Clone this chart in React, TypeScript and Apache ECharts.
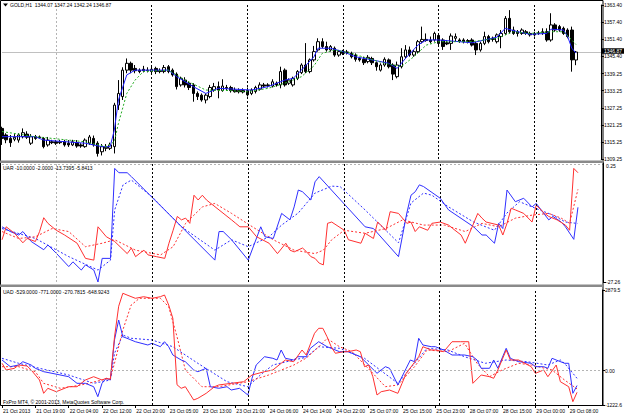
import { useEffect, useRef } from "react";
import * as echarts from "echarts";

const FONT = "Liberation Sans, Arial, sans-serif";

// time axis
const slotCount = 145;
const timeLabels = ["21 Oct 2013", "21 Oct 19:00", "22 Oct 04:00", "22 Oct 12:00", "22 Oct 20:00", "23 Oct 05:00", "23 Oct 13:00", "23 Oct 21:00", "24 Oct 06:00", "24 Oct 14:00", "24 Oct 22:00", "25 Oct 07:00", "25 Oct 15:00", "25 Oct 23:00", "28 Oct 07:00", "28 Oct 15:00", "29 Oct 00:00", "29 Oct 08:00"];
const timeLabelBars = [0, 8, 16, 24, 32, 40, 48, 56, 64, 72, 80, 88, 96, 104, 112, 120, 128, 136];
const firstSeparatorBar = 13;
const daySeparatorBars = [36, 59, 82, 105, 128];

// price axis
const priceTicks = [1309.25, 1315.25, 1321.25, 1327.25, 1333.25, 1339.25, 1345.4, 1351.4, 1357.4, 1363.4];
const bidPrice = 1346.87;
const uarMin = -27.26;
const uarMax = 0.25;
const uadTicks = [-1222.6, 0, 2879.5];

// GOLD H1 candles: [open, close, low, high]
const candles = [
  [1320.0, 1316.5, 1314.2, 1320.6], [1317.7, 1316.0, 1314.8, 1318.3], [1316.5, 1315.0, 1313.5, 1317.7], [1316.2, 1316.9, 1315.5, 1318.0],
  [1315.9, 1317.7, 1315.0, 1318.3], [1317.1, 1318.5, 1316.5, 1320.0], [1318.0, 1316.9, 1316.3, 1319.0], [1314.8, 1317.1, 1314.2, 1318.0],
  [1317.1, 1316.5, 1316.0, 1317.7], [1317.0, 1316.8, 1316.3, 1317.5], [1316.5, 1313.6, 1313.0, 1317.0], [1314.2, 1315.9, 1313.6, 1317.0],
  [1315.3, 1315.0, 1314.5, 1316.0], [1315.3, 1314.8, 1314.2, 1315.9], [1315.0, 1315.3, 1314.5, 1316.0], [1315.3, 1314.2, 1313.6, 1316.0],
  [1314.8, 1314.2, 1313.5, 1315.9], [1314.2, 1315.3, 1313.8, 1316.0], [1315.0, 1313.8, 1313.2, 1315.9], [1314.2, 1313.8, 1313.2, 1314.8],
  [1313.6, 1315.9, 1313.2, 1316.5], [1314.8, 1317.0, 1314.2, 1317.7], [1316.5, 1314.2, 1313.6, 1317.5], [1314.8, 1311.2, 1310.1, 1315.5],
  [1311.8, 1313.6, 1310.5, 1314.5], [1313.0, 1313.4, 1312.0, 1314.5], [1313.0, 1314.2, 1312.4, 1315.0], [1313.6, 1328.2, 1311.2, 1329.0],
  [1328.2, 1332.3, 1326.5, 1337.0], [1331.2, 1340.5, 1330.0, 1341.5], [1340.5, 1342.9, 1339.4, 1344.6], [1342.9, 1340.5, 1339.4, 1343.5],
  [1341.1, 1340.3, 1339.4, 1342.3], [1340.5, 1340.0, 1339.4, 1341.1], [1340.8, 1340.3, 1339.7, 1342.0], [1340.5, 1340.3, 1339.7, 1341.5],
  [1340.0, 1340.8, 1339.4, 1341.7], [1341.1, 1340.0, 1339.1, 1341.7], [1340.3, 1340.0, 1339.4, 1341.1], [1340.0, 1341.4, 1339.4, 1342.3],
  [1341.7, 1340.0, 1339.4, 1342.3], [1340.5, 1338.8, 1338.2, 1341.1], [1339.1, 1334.7, 1333.7, 1339.7], [1335.3, 1337.6, 1334.7, 1338.2],
  [1337.0, 1335.3, 1334.4, 1338.0], [1335.9, 1334.4, 1333.5, 1336.5], [1335.3, 1332.3, 1329.4, 1335.9], [1332.3, 1331.2, 1330.0, 1333.0],
  [1331.7, 1330.0, 1329.4, 1332.3], [1330.0, 1331.7, 1328.8, 1332.3], [1331.2, 1334.4, 1330.6, 1335.3], [1333.5, 1334.7, 1332.9, 1336.0],
  [1334.7, 1333.5, 1330.6, 1336.5], [1333.3, 1334.9, 1332.9, 1337.3], [1334.4, 1334.1, 1333.5, 1335.3], [1334.4, 1333.3, 1332.6, 1335.0],
  [1333.5, 1332.9, 1332.6, 1334.4], [1333.3, 1332.9, 1332.3, 1334.1], [1333.3, 1332.8, 1332.3, 1334.1], [1333.3, 1331.8, 1331.2, 1334.4],
  [1332.3, 1333.5, 1331.7, 1334.1], [1333.0, 1334.4, 1332.3, 1335.0], [1333.8, 1335.3, 1333.3, 1336.2], [1335.3, 1334.9, 1334.4, 1336.0],
  [1335.3, 1335.0, 1334.4, 1335.9], [1334.9, 1336.4, 1334.4, 1337.3], [1335.9, 1335.3, 1334.7, 1336.5], [1335.3, 1340.0, 1334.1, 1341.7],
  [1340.5, 1335.3, 1334.7, 1341.1], [1335.9, 1337.0, 1335.3, 1337.6], [1335.3, 1337.6, 1334.7, 1338.2], [1337.6, 1340.0, 1337.0, 1340.5],
  [1339.6, 1342.3, 1339.1, 1342.9], [1342.3, 1340.0, 1339.4, 1350.0], [1340.0, 1344.1, 1339.4, 1344.6], [1344.1, 1347.0, 1343.5, 1349.0],
  [1347.6, 1350.5, 1347.0, 1351.7], [1350.5, 1348.8, 1348.2, 1351.7], [1348.8, 1347.6, 1347.0, 1350.5], [1347.6, 1348.8, 1347.0, 1349.3],
  [1348.2, 1345.8, 1345.2, 1348.8], [1345.8, 1347.0, 1345.2, 1347.6], [1347.0, 1346.4, 1345.8, 1347.6], [1346.9, 1346.6, 1346.0, 1347.6],
  [1346.4, 1345.2, 1344.6, 1347.0], [1345.8, 1344.3, 1343.5, 1346.4], [1344.6, 1344.1, 1343.5, 1345.2], [1344.3, 1343.1, 1342.3, 1345.2],
  [1343.5, 1345.0, 1342.9, 1345.8], [1344.6, 1343.1, 1342.3, 1345.2], [1343.1, 1341.7, 1340.3, 1343.5], [1340.5, 1342.3, 1340.0, 1342.9],
  [1342.3, 1344.3, 1341.7, 1345.0], [1344.1, 1341.7, 1341.1, 1344.6], [1342.3, 1339.1, 1337.0, 1342.9], [1338.2, 1342.3, 1337.6, 1343.5],
  [1341.7, 1345.2, 1341.1, 1348.2], [1345.2, 1347.6, 1344.6, 1349.3], [1347.6, 1345.8, 1345.2, 1348.8], [1345.8, 1347.0, 1345.2, 1347.6],
  [1347.0, 1350.5, 1346.4, 1351.1], [1350.5, 1351.3, 1349.9, 1355.8], [1351.3, 1350.9, 1350.5, 1353.4], [1351.1, 1350.5, 1349.9, 1352.3],
  [1351.1, 1353.4, 1350.5, 1354.0], [1352.7, 1349.9, 1349.3, 1353.4], [1351.1, 1348.8, 1347.6, 1351.7], [1350.1, 1349.7, 1349.3, 1351.1],
  [1349.9, 1352.5, 1347.6, 1353.4], [1351.7, 1352.3, 1350.5, 1353.4], [1351.1, 1350.7, 1350.1, 1351.7], [1351.1, 1350.5, 1349.9, 1351.7],
  [1350.9, 1350.5, 1349.9, 1351.4], [1351.1, 1349.3, 1348.8, 1351.7], [1349.9, 1347.6, 1345.8, 1350.5], [1347.6, 1349.9, 1347.0, 1350.5],
  [1349.9, 1352.3, 1349.3, 1354.0], [1352.3, 1350.5, 1349.9, 1352.9], [1351.7, 1351.3, 1350.5, 1352.3], [1350.5, 1352.9, 1349.9, 1353.4],
  [1352.3, 1353.4, 1348.2, 1354.6], [1353.4, 1358.7, 1352.9, 1359.5], [1358.7, 1354.0, 1353.4, 1361.6], [1354.6, 1353.4, 1352.9, 1355.8],
  [1354.0, 1353.4, 1352.3, 1354.6], [1353.4, 1354.6, 1352.9, 1355.2], [1354.0, 1353.4, 1352.9, 1354.6], [1353.4, 1352.9, 1352.3, 1354.0],
  [1353.4, 1352.9, 1352.3, 1354.0], [1353.4, 1353.6, 1352.9, 1354.3], [1353.6, 1354.0, 1352.9, 1355.2], [1354.0, 1351.1, 1350.5, 1355.2],
  [1351.1, 1356.4, 1350.5, 1360.5], [1356.4, 1354.6, 1354.0, 1357.0], [1355.8, 1354.6, 1354.0, 1356.4], [1355.2, 1353.4, 1352.9, 1355.8],
  [1354.6, 1352.3, 1351.7, 1355.2], [1354.6, 1344.1, 1339.96, 1355.8], [1344.07, 1346.87, 1342.24, 1347.24],
];

// moving averages on price pane: [bar, price]
const maFast = [[0, 1317.1], [8, 1317.1], [10, 1315.9], [20, 1314.8], [24, 1313.6], [26, 1313.6], [27, 1319.4], [28, 1330], [30, 1338.8], [32, 1340.5], [40, 1340.5], [42, 1338.2], [46, 1334.7], [49, 1332.3], [52, 1334.1], [60, 1333.5], [64, 1334.7], [68, 1337], [70, 1337.6], [72, 1340.5], [75, 1345.2], [76, 1348.2], [79, 1348.2], [82, 1347], [85, 1345.2], [89, 1344.1], [93, 1342.9], [95, 1341.1], [97, 1344.6], [100, 1349.3], [102, 1351.1], [105, 1351.1], [110, 1350.5], [113, 1350.1], [116, 1351.1], [119, 1352.1], [121, 1355.2], [124, 1354], [127, 1353.1], [131, 1353.4], [132, 1354.9], [135, 1354.6], [136, 1352.3], [137, 1348.2], [138, 1346.5]];
const maSlow = [[0, 1318.9], [8, 1317.1], [20, 1315.3], [25, 1313.6], [27, 1315.3], [28, 1321.8], [30, 1332.3], [32, 1337], [34, 1340], [40, 1340.5], [44, 1337], [49, 1333.5], [55, 1333.3], [59, 1332.9], [64, 1334.1], [68, 1335.9], [72, 1338.2], [75, 1342], [77, 1346.4], [80, 1347.6], [84, 1346.4], [88, 1344.6], [92, 1342.9], [96, 1341.7], [99, 1345.2], [102, 1349.3], [105, 1350.5], [113, 1350.5], [119, 1351.7], [123, 1354], [127, 1353.4], [132, 1354], [135, 1354], [137, 1351.1], [138, 1349.5]];

// UAR pane: [bar, value]
const uarBlue = [[0, -14.5], [2, -15.6], [4, -16.4], [5, -15.6], [7, -17.9], [10, -19.8], [11, -18.7], [13, -20.6], [16, -23.7], [17, -22.6], [19, -24.5], [20, -23.3], [22, -24.5], [23, -27.26], [24, -21.8], [26, -21.8], [27, -1.0], [28, -2.0], [30, -2.0], [31, -2.9], [51, -22.2], [52, -15.6], [53, -15.6], [55, -17.5], [59, -22.2], [62, -14.5], [63, -16.8], [65, -17.2], [67, -11.4], [69, -12.9], [70, -9.9], [71, -6.0], [72, -6.4], [74, -8.3], [75, -4.1], [76, -2.9], [87, -14.5], [89, -14.9], [95, -21.4], [97, -11.3], [98, -7.2], [99, -6.4], [100, -4.8], [101, -5.2], [105, -7.9], [107, -10.6], [113, -14.5], [115, -16.4], [116, -16.4], [118, -18.3], [119, -13.7], [120, -14.9], [121, -6.0], [123, -8.7], [125, -7.9], [127, -9.9], [128, -9.1], [131, -12.9], [132, -12.1], [134, -13.4], [135, -14.5], [137, -17.4], [138, -10.0]];
const uarRed = [[0, -17.5], [1, -14.5], [3, -16.0], [5, -18.2], [6, -17.2], [8, -17.9], [9, -15.6], [10, -12.4], [11, -13.7], [13, -15.3], [15, -16.4], [18, -18.3], [20, -21.8], [22, -22.2], [23, -14.5], [25, -16.8], [27, -17.9], [30, -20.7], [31, -19.4], [32, -21.4], [34, -19.9], [35, -21.0], [37, -21.4], [39, -21.8], [40, -18.3], [41, -15.3], [42, -12.1], [43, -12.9], [44, -12.5], [45, -13.7], [46, -7.2], [47, -8.3], [48, -7.2], [49, -8.3], [52, -10.6], [55, -12.9], [56, -13.7], [57, -14.5], [59, -14.5], [61, -16.8], [64, -18.3], [66, -20.7], [68, -18.3], [69, -19.9], [70, -20.3], [72, -19.4], [73, -20.3], [74, -21.4], [75, -21.8], [76, -22.9], [77, -23.3], [78, -13.7], [79, -13.4], [82, -15.3], [83, -17.5], [86, -18.3], [87, -16.0], [89, -17.2], [90, -13.4], [92, -15.3], [93, -11.0], [95, -11.4], [97, -13.7], [98, -13.4], [99, -15.6], [100, -14.5], [102, -15.3], [103, -13.7], [105, -13.4], [107, -14.1], [108, -14.9], [110, -16.4], [111, -18.3], [112, -16.0], [114, -11.4], [115, -12.5], [116, -13.4], [119, -14.1], [120, -16.4], [121, -13.7], [122, -10.2], [123, -10.6], [125, -11.4], [127, -13.4], [128, -9.5], [130, -11.4], [131, -12.1], [133, -12.9], [135, -14.1], [136, -15.3], [137, -1.0], [138, -2.0]];
const uarBlueMA = [[0, -14.9], [8, -17.2], [16, -21.4], [23, -24.5], [26, -22.2], [27, -10.6], [29, -4.8], [31, -3.7], [36, -7.6], [43, -14.5], [51, -19.9], [55, -17.5], [59, -19.1], [64, -16.8], [67, -14.1], [71, -11.3], [75, -6.7], [79, -5.1], [81, -5.2], [87, -10.6], [95, -18.2], [98, -9.0], [101, -6.7], [103, -7.2], [107, -9.9], [113, -13.4], [118, -15.3], [121, -11.3], [124, -8.7], [127, -9.9], [132, -11.8], [135, -13.4], [138, -13.7395]];
const uarRedMA = [[0, -15.6], [4, -17.2], [8, -16.8], [12, -14.9], [16, -15.6], [20, -19.1], [24, -18.3], [27, -17.5], [32, -19.9], [38, -21.0], [41, -19.1], [44, -13.7], [48, -9.9], [51, -9.1], [55, -11.4], [60, -14.5], [65, -17.5], [70, -19.9], [75, -20.7], [77, -19.9], [79, -17.5], [82, -15.3], [87, -16.0], [92, -14.9], [96, -12.9], [101, -14.1], [106, -14.1], [111, -15.6], [115, -13.7], [119, -14.5], [123, -12.5], [127, -11.8], [131, -11.4], [134, -12.5], [136, -13.7], [138, -5.8413]];

// UAD pane: [bar, value]
const uadBlue = [[0, 383], [2, 144], [4, 204], [5, 322], [7, 204], [8, 87], [10, -34], [12, -92], [16, -213], [18, -449], [20, -449], [22, -570], [23, -927], [24, -449], [25, -270], [26, -331], [27, 1100], [28, 1809], [29, 1214], [30, 1157], [32, 1035], [35, 918], [36, 978], [38, 857], [39, 1035], [40, 857], [41, 561], [43, 383], [44, 322], [46, 26], [47, -34], [49, 87], [50, -570], [52, -627], [54, -570], [55, -688], [57, -627], [59, -866], [60, -270], [61, 204], [63, 500], [65, 443], [66, 383], [67, 739], [68, 443], [70, 383], [71, 500], [73, 500], [74, 800], [76, 1035], [78, 857], [79, 800], [81, 679], [83, 679], [84, 622], [86, 500], [88, 204], [90, -92], [92, 144], [93, 87], [95, -509], [97, 87], [98, 383], [99, 322], [100, 1157], [101, 918], [103, 857], [104, 857], [106, 739], [108, 561], [111, 561], [113, 500], [114, 383], [115, 87], [117, 87], [118, 383], [119, 87], [121, 800], [122, 443], [124, 322], [127, 265], [128, 144], [130, 144], [131, 87], [132, 443], [133, 383], [135, 265], [136, 265], [137, -806], [138, -529]];
const uadRed = [[0, 265], [1, 26], [3, 87], [4, 204], [6, 170], [7, 26], [9, -331], [10, -806], [11, -627], [13, -748], [16, -570], [18, -570], [20, -331], [22, -213], [24, -331], [25, -270], [26, -306], [27, 1200], [28, 2300], [29, 2762], [30, 2701], [32, 2583], [34, 2640], [36, 2583], [38, 2640], [39, 2701], [40, 2344], [41, 1870], [42, -500], [43, -627], [44, -570], [45, -806], [46, -1044], [47, -984], [49, -806], [51, -570], [52, -509], [55, -449], [58, -392], [60, -152], [63, -34], [65, 26], [67, 265], [68, 383], [70, 322], [72, 739], [73, 561], [75, 1335], [76, 1513], [77, 1513], [78, 1214], [79, 857], [80, 622], [82, 679], [83, 679], [85, 739], [86, 679], [87, 144], [88, 204], [89, -213], [90, -866], [91, -748], [93, -688], [95, -806], [96, -449], [97, -92], [99, 300], [100, 500], [101, 857], [103, 739], [104, 739], [106, 679], [108, 1035], [110, 1035], [112, 1035], [113, -449], [115, -152], [117, -213], [118, -270], [119, 26], [121, 739], [122, 383], [124, 383], [127, 144], [128, -92], [130, 26], [131, -213], [133, 204], [134, -392], [136, -570], [137, -1105], [138, -771]];
const uadBlueMA = [[0, 443], [4, 265], [9, 87], [16, -152], [22, -449], [26, -331], [27, 622], [29, 1274], [31, 1157], [36, 1096], [41, 857], [47, 265], [54, -392], [59, -570], [62, -152], [65, 204], [70, 383], [73, 480], [76, 857], [81, 800], [87, 443], [95, -449], [99, 265], [102, 800], [107, 739], [111, 500], [116, 265], [121, 383], [126, 322], [131, 204], [134, 383], [135, 265], [138, -270.7815]];
const uadRedMA = [[0, 144], [4, 144], [8, -34], [10, -449], [14, -627], [19, -509], [24, -331], [26, -270], [27, 265], [29, 1453], [31, 2344], [33, 2583], [38, 2583], [40, 2284], [42, 1214], [44, 26], [48, -570], [52, -570], [59, -392], [64, -152], [70, 200], [73, 450], [76, 850], [78, 1150], [81, 857], [84, 679], [89, -92], [92, -570], [95, -509], [99, 144], [102, 739], [107, 679], [111, 978], [114, 265], [117, -213], [120, 26], [124, 265], [127, 204], [132, 26], [135, -331], [138, -648.9243]];

const BLUE = "#2f2fff";
const RED = "#ff3030";

export default function App() {
  const ref = useRef<HTMLDivElement>(null);
  useEffect(() => {
    if (!ref.current) return;
    const chart = echarts.init(ref.current, undefined, { renderer: "svg" });
    const slots = Array.from({ length: slotCount }, (_, i) => String(i));
    const isLabelBar = (i: number) => timeLabelBars.includes(i);

    const xAxis = (gridIndex: number, show: boolean) => ({
      type: "category",
      gridIndex,
      data: slots,
      boundaryGap: false,
      axisLine: { show, onZero: false, lineStyle: { color: "#000", width: 1 } },
      axisTick: { show, interval: isLabelBar, length: 3, lineStyle: { color: "#000" } },
      axisLabel: {
        show,
        interval: isLabelBar,
        formatter: (_v: string, i: number) => {
          const k = timeLabelBars.indexOf(i);
          return k >= 0 ? timeLabels[k] : "";
        },
        fontSize: 5,
        fontFamily: FONT,
        color: "#000",
        align: "left",
        margin: 3,
        padding: [0, 0, 0, 1],
      },
      splitLine: { show: false },
    });

    const yAxis = (gridIndex: number, min: number, max: number, ticks: number[], fmt: (v: number) => string) => ({
      type: "value",
      gridIndex,
      position: "right",
      min,
      max,
      axisLine: { show: true, lineStyle: { color: "#000", width: 1 } },
      axisTick: { show: true, length: 3, customValues: ticks, lineStyle: { color: "#000" } },
      axisLabel: { customValues: ticks, formatter: fmt, fontSize: 5, fontFamily: FONT, color: "#000", margin: 3 },
      splitLine: { show: false },
    });

    // black dotted day separators
    const blackSeparators = {
      silent: true,
      symbol: ["none", "none"],
      label: { show: false },
      lineStyle: { color: "#000000", type: [2, 2], width: 1 },
      data: daySeparatorBars.map((b) => ({ xAxis: String(b) })),
    };
    // light gray dotted: first separator + optional level line
    const graySeparators = (level: number | null) => ({
      silent: true,
      symbol: ["none", "none"],
      label: { show: false },
      lineStyle: { color: "#b4b4b4", type: [2, 2], width: 1 },
      data: level === null
        ? [{ xAxis: String(firstSeparatorBar) }]
        : [{ xAxis: String(firstSeparatorBar) }, { yAxis: level }],
    });

    const line = (name: string, data: number[][], xi: number, color: string, dotted: boolean, extra: any = {}) => ({
      name,
      type: "line",
      xAxisIndex: xi,
      yAxisIndex: xi,
      data,
      showSymbol: false,
      symbol: "none",
      lineStyle: { color, width: 1, type: dotted ? [2, 2] : "solid" },
      z: dotted ? 3 : 4,
      ...extra,
    });

    chart.setOption({
      animation: false,
      backgroundColor: "#ffffff",
      grid: [
        { left: 2, right: 22, top: 5, height: 154 },
        { left: 2, right: 22, top: 163, height: 119 },
        { left: 2, right: 22, top: 290, height: 115 },
      ],
      xAxis: [xAxis(0, false), xAxis(1, false), xAxis(2, true)],
      yAxis: [
        yAxis(0, 1309.25, 1363.4, priceTicks, (v) => v.toFixed(2)),
        yAxis(1, uarMin, uarMax, [uarMin], (v) => v.toFixed(2)),
        yAxis(2, -1222.6, 2879.5, uadTicks, (v) => (v === 0 ? "0.00" : v.toFixed(1))),
      ],
      series: [
        {
          name: "GOLD,H1",
          type: "candlestick",
          xAxisIndex: 0,
          yAxisIndex: 0,
          data: candles,
          barWidth: 3,
          itemStyle: { color: "#ffffff", color0: "#000000", borderColor: "#000000", borderColor0: "#000000", borderWidth: 1 },
          markLine: {
            silent: true,
            symbol: ["none", "none"],
            lineStyle: { color: "#c0c0c0", type: "solid", width: 1 },
            label: {
              show: true,
              position: "end",
              distance: 1,
              offset: [0, -1],
              formatter: bidPrice.toFixed(2),
              color: "#fff",
              backgroundColor: "#000",
              padding: [0, 2, 0, 2],
              lineHeight: 5.5,
              fontSize: 5,
              fontFamily: FONT,
            },
            data: [{ yAxis: bidPrice }],
          },
          z: 5,
        },
        line("MA fast", maFast, 0, "#1f1fff", false, { markLine: blackSeparators, z: 6 }),
        line("MA slow", maSlow, 0, "#22aa22", true, { markLine: graySeparators(null), z: 6 }),
        line("UAR blue MA", uarBlueMA, 1, BLUE, true, { markLine: blackSeparators }),
        line("UAR red MA", uarRedMA, 1, RED, true, { markLine: graySeparators(0) }),
        line("UAR blue", uarBlue, 1, BLUE, false),
        line("UAR red", uarRed, 1, RED, false),
        line("UAD blue MA", uadBlueMA, 2, BLUE, true, { markLine: blackSeparators }),
        line("UAD red MA", uadRedMA, 2, RED, true, { markLine: graySeparators(0) }),
        line("UAD blue", uadBlue, 2, BLUE, false),
        line("UAD red", uadRed, 2, RED, false),
      ],
      graphic: [
        { type: "rect", shape: { x: 0.5, y: 0.5, width: 602.5, height: 405 }, style: { fill: "none", stroke: "#000", lineWidth: 1 }, silent: true, z: 10 },
        { type: "rect", shape: { x: 0, y: 160.5, width: 603, height: 2.5 }, style: { fill: "#8a8a8a" }, silent: true, z: 10 },
        { type: "rect", shape: { x: 0, y: 284.5, width: 603, height: 2.5 }, style: { fill: "#8a8a8a" }, silent: true, z: 10 },
        { type: "polygon", shape: { points: [[3, 3.5], [8, 3.5], [5.5, 6.5]] }, style: { fill: "#000" }, silent: true, z: 10 },
        { type: "text", x: 10, y: 5, style: { text: "GOLD,H1  1344.07 1347.24 1342.24 1346.87", fontSize: 5, fontFamily: FONT, fill: "#000", verticalAlign: "middle" }, z: 10 },
        { type: "text", x: 3, y: 167.5, style: { text: "UAR -10.0000 -2.0000 -13.7395 -5.8413", fontSize: 5, fontFamily: FONT, fill: "#000", verticalAlign: "middle" }, z: 10 },
        { type: "text", x: 3, y: 292, style: { text: "UAD -529.0000 -771.0000 -270.7815 -648.9243", fontSize: 5, fontFamily: FONT, fill: "#000", verticalAlign: "middle" }, z: 10 },
        { type: "text", x: 3, y: 402, style: { text: "FxPro MT4, © 2001-2013, MetaQuotes Software Corp.", fontSize: 5, fontFamily: FONT, fill: "#000", verticalAlign: "middle" }, z: 10 },
        { type: "text", x: 606, y: 166, style: { text: uarMax.toFixed(2), fontSize: 5, fontFamily: FONT, fill: "#000", verticalAlign: "middle" }, z: 10 },
      ],
    });
    return () => chart.dispose();
  }, []);
  return <div ref={ref} style={{ width: 625, height: 417, position: "absolute", left: 0, top: 0 }} />;
}
